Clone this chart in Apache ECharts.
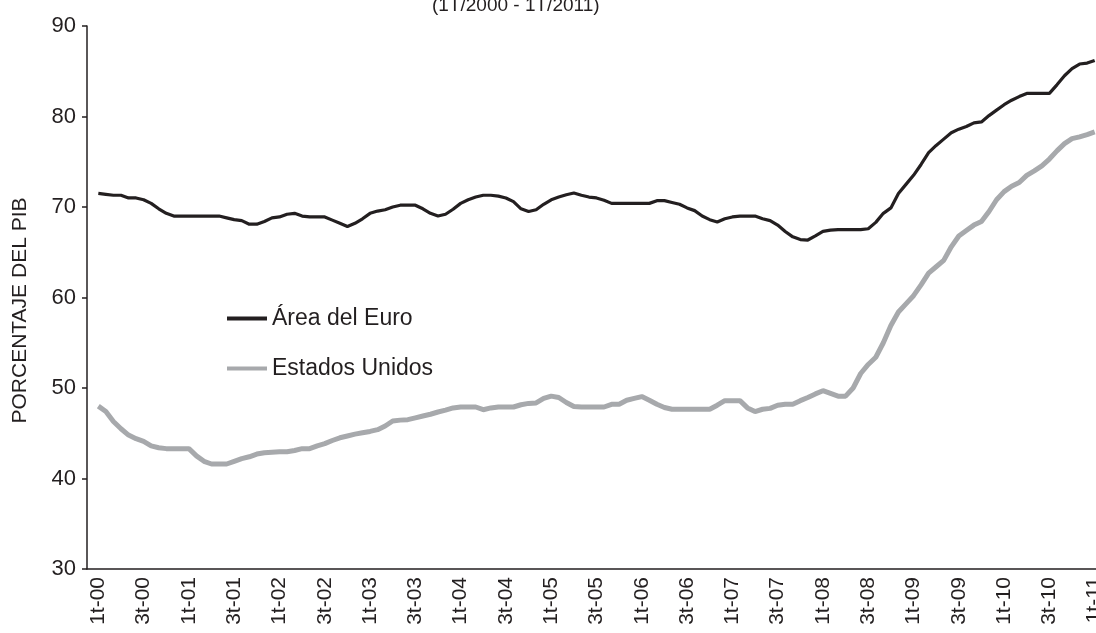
<!DOCTYPE html>
<html>
<head>
<meta charset="utf-8">
<script src="https://cdn.jsdelivr.net/npm/echarts@6/dist/echarts.min.js"></script>
<style>
html, body { margin: 0; padding: 0; background: #fff; }
#deuda { width: 1096px; height: 633px; }
</style>
</head>
<body>
<div id="deuda"></div>
<script>
// meses de ene-00 a mar-11 (cada trimestre = 3 categorias)
const monthNames = ['ene', 'feb', 'mar', 'abr', 'may', 'jun', 'jul', 'ago', 'sep', 'oct', 'nov', 'dic'];
const categories = [];
for (let y = 2000; y <= 2011; y++) {
  for (let m = 0; m < 12; m++) {
    if (y === 2011 && m > 2) break;
    categories.push(monthNames[m] + '-' + String(y).slice(2));
  }
}

const tickLabels = [
  '1t-00', '3t-00', '1t-01', '3t-01', '1t-02', '3t-02', '1t-03', '3t-03',
  '1t-04', '3t-04', '1t-05', '3t-05', '1t-06', '3t-06', '1t-07', '3t-07',
  '1t-08', '3t-08', '1t-09', '3t-09', '1t-10', '3t-10', '1t-11'
];

// feb-00 .. feb-11
const euroArea = [
  71.5, 71.4, 71.3, 71.3, 71.0, 71.0, 70.8, 70.4, 69.8, 69.3,
  69.0, 69.0, 69.0, 69.0, 69.0, 69.0, 69.0, 68.8, 68.6, 68.5,
  68.1, 68.1, 68.4, 68.8, 68.9, 69.2, 69.3, 69.0, 68.9, 68.9,
  68.9, 68.55, 68.2, 67.85, 68.2, 68.7, 69.3, 69.55, 69.7, 70.0,
  70.2, 70.2, 70.2, 69.8, 69.3, 69.0, 69.2, 69.75, 70.4, 70.8,
  71.1, 71.3, 71.3, 71.2, 71.0, 70.6, 69.8, 69.5, 69.7, 70.3,
  70.8, 71.1, 71.35, 71.55, 71.3, 71.1, 71.0, 70.75, 70.4, 70.4,
  70.4, 70.4, 70.4, 70.4, 70.7, 70.7, 70.5, 70.3, 69.9, 69.6,
  69.0, 68.6, 68.35, 68.7, 68.9, 69.0, 69.0, 69.0, 68.7, 68.5,
  68.0, 67.3, 66.7, 66.4, 66.35, 66.8, 67.3, 67.45, 67.5, 67.5,
  67.5, 67.5, 67.6, 68.3, 69.3, 69.9, 71.5, 72.5, 73.5, 74.7,
  76.0, 76.8, 77.5, 78.2, 78.6, 78.9, 79.3, 79.4, 80.1, 80.7,
  81.3, 81.8, 82.2, 82.55, 82.55, 82.55, 82.55, 83.5, 84.5, 85.3,
  85.8, 85.9, 86.2
];
const estadosUnidos = [
  48.0, 47.4, 46.3, 45.5, 44.8, 44.4, 44.1, 43.6, 43.4, 43.3,
  43.3, 43.3, 43.3, 42.5, 41.9, 41.6, 41.6, 41.6, 41.9, 42.2,
  42.4, 42.7, 42.85, 42.9, 42.95, 42.95, 43.1, 43.3, 43.3, 43.6,
  43.85, 44.2, 44.5, 44.7, 44.9, 45.05, 45.2, 45.4, 45.8, 46.35,
  46.45, 46.5, 46.7, 46.9, 47.1, 47.35, 47.55, 47.8, 47.9, 47.9,
  47.9, 47.6, 47.8, 47.9, 47.9, 47.9, 48.15, 48.3, 48.35, 48.85,
  49.1, 48.95, 48.4, 47.95, 47.9, 47.9, 47.9, 47.9, 48.2, 48.2,
  48.65, 48.85, 49.05, 48.65, 48.2, 47.85, 47.65, 47.65, 47.65, 47.65,
  47.65, 47.65, 48.1, 48.6, 48.6, 48.6, 47.8, 47.4, 47.65, 47.75,
  48.1, 48.2, 48.2, 48.6, 48.95, 49.35, 49.7, 49.4, 49.1, 49.1,
  50.0, 51.6, 52.6, 53.4, 55.0, 56.9, 58.4, 59.3, 60.2, 61.4,
  62.7, 63.4, 64.1, 65.6, 66.8, 67.4, 68.0, 68.4, 69.5, 70.8,
  71.7, 72.3, 72.7, 73.5, 74.0, 74.55, 75.3, 76.2, 77.0, 77.55,
  77.75, 78.0, 78.3
];

const font = '"Liberation Sans", Arial, sans-serif';
const ink = '#231f20';

const chart = echarts.init(document.getElementById('deuda'));
chart.setOption({
  animation: false,
  title: {
    text: '(1T/2000 - 1T/2011)',
    left: 432,
    top: -4,
    padding: 0,
    textStyle: { fontFamily: font, fontSize: 19, fontWeight: 'normal', color: ink }
  },
  legend: {
    orient: 'vertical',
    left: 222,
    top: 302,
    icon: 'rect',
    itemWidth: 40,
    itemHeight: 4,
    itemGap: 27,
    textStyle: { fontFamily: font, fontSize: 23, color: ink },
    data: ['Área del Euro', 'Estados Unidos']
  },
  grid: {
    left: 87,
    right: -10,
    top: 26,
    bottom: 64,
    containLabel: false,
    outerBoundsMode: 'none'
  },
  xAxis: {
    type: 'category',
    data: categories,
    boundaryGap: true,
    axisLine: { lineStyle: { color: ink, width: 1.5 } },
    axisTick: {
      interval: function (index) { return index % 3 === 0; },
      length: 4,
      lineStyle: { color: ink, width: 1.5 }
    },
    axisLabel: {
      interval: function (index) { return index % 6 === 1; },
      formatter: function (value) {
        const i = categories.indexOf(value);
        return tickLabels[(i - 1) / 6];
      },
      rotate: 90,
      margin: 8,
      fontFamily: font,
      fontSize: 21,
      color: ink
    },
    splitLine: { show: false }
  },
  yAxis: {
    type: 'value',
    min: 30,
    max: 90,
    interval: 10,
    name: 'PORCENTAJE DEL PIB',
    nameLocation: 'middle',
    nameRotate: 90,
    nameGap: 56,
    nameTextStyle: { fontFamily: font, fontSize: 21, color: ink, padding: [0, 26, 0, 0] },
    axisLine: { show: true, lineStyle: { color: ink, width: 1.5 } },
    axisTick: { show: true, length: 5, lineStyle: { color: ink, width: 1.5 } },
    axisLabel: { margin: 11, fontFamily: font, fontSize: 22, color: ink },
    splitLine: { show: false }
  },
  series: [
    {
      name: 'Área del Euro',
      type: 'line',
      symbol: 'none',
      data: euroArea.map(function (v, i) { return [categories[i + 1], v]; }),
      lineStyle: { color: ink, width: 3.2 },
      itemStyle: { color: ink }
    },
    {
      name: 'Estados Unidos',
      type: 'line',
      symbol: 'none',
      data: estadosUnidos.map(function (v, i) { return [categories[i + 1], v]; }),
      lineStyle: { color: '#a7a9ac', width: 5 },
      itemStyle: { color: '#a7a9ac' }
    }
  ]
});
</script>
</body>
</html>
